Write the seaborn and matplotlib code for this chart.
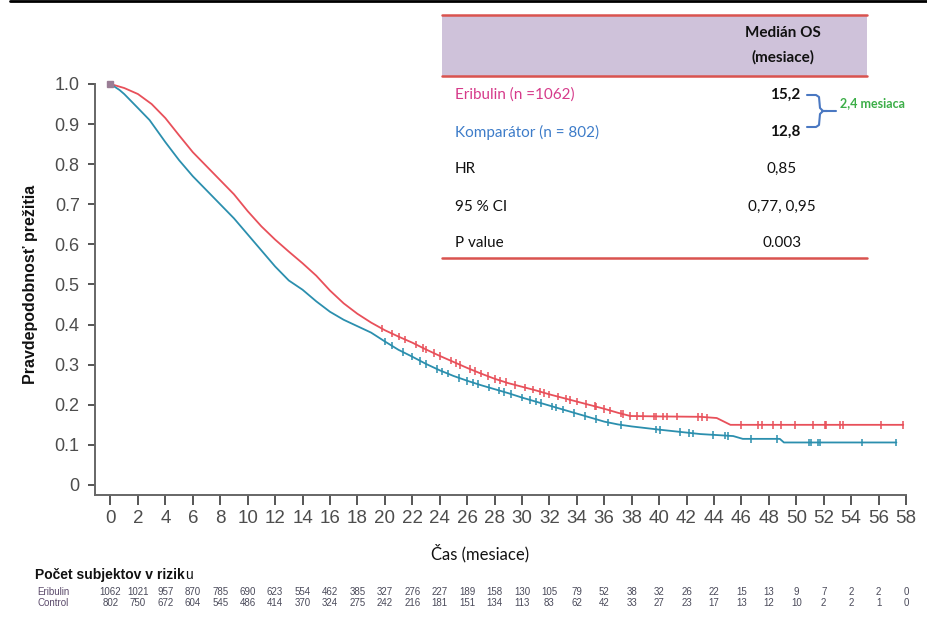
import numpy as np
import pandas as pd
import matplotlib
matplotlib.use("Agg")
import matplotlib.pyplot as plt
import matplotlib.transforms as mtransforms
from matplotlib.lines import Line2D
from matplotlib.patches import Rectangle
import seaborn as sns

# Kaplan-Meier curves (months, survival probability)
eri_t = [0, 1, 2, 3, 4, 5, 6, 7, 8, 9, 10, 11, 12, 13, 14, 15, 16, 17, 18, 19, 20,
         21, 22, 23, 24, 25, 26, 27, 28, 29, 30, 31, 32, 33, 34, 35, 36, 37, 37.9,
         40, 43.0, 44.2, 45.2, 57.8]
eri_s = [1.0, 0.99, 0.975, 0.95, 0.915, 0.872, 0.83, 0.795, 0.76, 0.725, 0.683, 0.645,
         0.612, 0.582, 0.553, 0.522, 0.485, 0.453, 0.427, 0.405, 0.386, 0.37, 0.355,
         0.338, 0.322, 0.307, 0.292, 0.278, 0.265, 0.254, 0.245, 0.236, 0.226, 0.217,
         0.208, 0.199, 0.19, 0.18, 0.172, 0.171, 0.17, 0.167, 0.15, 0.15]
cmp_t = [0, 0.66, 1, 2, 2.85, 4, 5, 6, 7, 8, 9, 10, 11, 12, 13, 14, 15, 16, 17, 18,
         19, 20, 21, 22, 23, 24, 25, 26, 27, 28, 29, 30, 31, 32, 33, 34, 35, 36, 37,
         38, 40, 43.0, 45.4, 46.1, 48.8, 49.1, 57.3]
cmp_s = [1.0, 0.985, 0.975, 0.94, 0.91, 0.855, 0.81, 0.77, 0.735, 0.70, 0.665, 0.625,
         0.585, 0.545, 0.51, 0.487, 0.458, 0.432, 0.412, 0.396, 0.38, 0.358, 0.337,
         0.32, 0.302, 0.286, 0.272, 0.26, 0.249, 0.239, 0.229, 0.218, 0.208, 0.198,
         0.188, 0.178, 0.168, 0.158, 0.151, 0.146, 0.138, 0.127, 0.122, 0.115, 0.115,
         0.106, 0.106]

# censoring marks (months)
eri_cens = [19.8, 20.5, 21.0, 21.5, 22.3, 22.8, 23.0, 23.6, 24.0, 24.8, 25.2, 25.5,
            26.2, 26.6, 27.0, 27.5, 28.0, 28.4, 28.8, 29.5, 30.2, 30.8, 31.3, 31.6,
            32.0, 32.6, 33.2, 33.5, 34.0, 34.7, 35.3, 35.4, 36.0, 36.4, 37.2, 37.4,
            37.9, 38.4, 38.8, 39.6, 39.8, 40.3, 40.6, 41.3, 42.8, 43.1, 43.5, 46.0,
            47.2, 47.5, 48.3, 48.9, 49.9, 51.2, 52.1, 52.2, 53.2, 53.4, 56.2, 57.8]
cmp_cens = [20.0, 20.5, 21.3, 22.0, 22.6, 23.0, 23.8, 24.2, 24.6, 25.4, 26.0, 26.4,
            26.8, 27.6, 28.3, 28.7, 29.2, 30.0, 30.6, 31.0, 31.4, 32.2, 32.5, 33.0,
            33.8, 34.6, 35.4, 36.3, 37.2, 39.8, 40.1, 41.5, 42.2, 42.5, 43.9, 44.8,
            45.0, 46.7, 48.6, 50.9, 51.1, 51.6, 51.7, 54.8, 57.3]

# numbers at risk
risk_months = list(range(0, 59, 2))
risk_eri = [1062, 1021, 957, 870, 785, 690, 623, 554, 462, 385, 327, 276, 227, 189, 158,
            130, 105, 79, 52, 38, 32, 26, 22, 15, 13, 9, 7, 2, 2, 0]
risk_ctl = [802, 750, 672, 604, 545, 486, 414, 370, 324, 275, 242, 216, 181, 151, 134,
            113, 83, 62, 42, 33, 27, 23, 17, 13, 12, 10, 2, 2, 1, 0]

yticks = [0, 0.1, 0.2, 0.3, 0.4, 0.5, 0.6, 0.7, 0.8, 0.9, 1.0]
ytick_labels = ["0", "0.1", "0.2", "0.3", "0.4", "0.5", "0.6", "0.7", "0.8", "0.9", "1.0"]

# summary table
row_labels = ["Eribulin (n =1062)", "Komparátor (n = 802)", "HR", "95 % CI", "P value"]
row_values = ["15,2", "12,8", "0,85", "0,77, 0,95", "0.003"]

RED = "#e8505a"
BLUE = "#2b8fae"

sns.set_style("white")
plt.rcParams["font.family"] = ["Liberation Sans", "DejaVu Sans"]

W, H = 927, 621
fig = plt.figure(figsize=(W / 100, H / 100), dpi=100)


def fx(px):
    return px / W


def fy(py):
    return 1 - py / H


ax = fig.add_axes([fx(95), fy(495), fx(906) - fx(95), fy(84) - fy(495)])

df = pd.concat([
    pd.DataFrame({"t": eri_t, "s": eri_s, "arm": "Eribulin"}),
    pd.DataFrame({"t": cmp_t, "s": cmp_s, "arm": "Komparátor"}),
])
pal = {"Eribulin": RED, "Komparátor": BLUE}
sns.lineplot(data=df, x="t", y="s", hue="arm", palette=pal, estimator=None,
             linewidth=1.3, legend=False, ax=ax, clip_on=False)

cens = pd.concat([
    pd.DataFrame({"t": eri_cens, "s": np.interp(eri_cens, eri_t, eri_s), "arm": "Eribulin"}),
    pd.DataFrame({"t": cmp_cens, "s": np.interp(cmp_cens, cmp_t, cmp_s), "arm": "Komparátor"}),
])
sns.scatterplot(data=cens, x="t", y="s", hue="arm", palette=pal, marker="|", s=30,
                linewidth=1.1, legend=False, ax=ax, clip_on=False)
ax.plot(eri_t[0], eri_s[0], marker="s", ms=4, color="#9a7d95", clip_on=False)

ax.set_xlim(-1.13, 58)
ax.set_ylim(-0.025, 1.0)
ax.set_xticks(risk_months)
ax.set_xticklabels([str(m) for m in risk_months],
                   family=["Liberation Sans Narrow", "Liberation Sans"],
                   fontsize=13.5, color="#4d4d4d")
ax.set_yticks(yticks)
ax.set_yticklabels(ytick_labels, fontsize=13, color="#4d4d4d")
sns.despine(ax=ax)
for sp in ["left", "bottom"]:
    ax.spines[sp].set_color("#666666")
    ax.spines[sp].set_linewidth(1.4)
ax.tick_params(axis="x", direction="out", length=7, width=1.4, color="#555555", pad=4, bottom=True)
ax.tick_params(axis="y", direction="out", length=5, width=1.4, color="#555555", pad=6, left=True)

ax.set_ylabel("Pravdepodobnosť prežitia", fontsize=11.5, fontweight="bold", color="#111111")
ax.yaxis.set_label_coords((38 - 95) / 811, (495 - 284) / 411)
ax.set_xlabel("Čas (mesiace)", family=["Lato", "DejaVu Sans"], fontsize=12, color="#111111")
ax.xaxis.set_label_coords((480 - 95) / 811, (495 - 553) / 411)
ax.xaxis.label.set_va("center")

# top black rule
fig.add_artist(Line2D([fx(10), fx(927)], [fy(1), fy(1)], color="black", lw=2))

# summary table
tab_font = ["Lato", "DejaVu Sans"]
fig.add_artist(Rectangle((fx(442), fy(76)), fx(867) - fx(442), fy(15) - fy(76),
                         facecolor="#cfc2da", edgecolor="none"))
for py in [15, 76, 258]:
    fig.add_artist(Line2D([fx(442), fx(867)], [fy(py), fy(py)], color="#d9534f", lw=1.8))
fig.text(fx(783), fy(33), "Medián OS", ha="center", va="center", family=tab_font,
         fontsize=11, fontweight="bold", color="#111111")
fig.text(fx(783), fy(57), "(mesiace)", ha="center", va="center", family=tab_font,
         fontsize=11, fontweight="bold", color="#111111")
row_y = [95, 132, 169, 207, 243]
row_colors = ["#d63a8a", "#3d7cc9", "#111111", "#111111", "#111111"]
for i, (lab, val) in enumerate(zip(row_labels, row_values)):
    fig.text(fx(455), fy(row_y[i]), lab, ha="left", va="center", family=tab_font,
             fontsize=11, color=row_colors[i])
    if i < 2:
        fig.text(fx(800), fy(row_y[i]), val, ha="right", va="center", family=tab_font,
                 fontsize=11, fontweight="bold", color="#111111")
    else:
        fig.text(fx(782), fy(row_y[i]), val, ha="center", va="center", family=tab_font,
                 fontsize=11, color="#111111")

# brace showing the difference in medians
bx = [807, 816, 819, 820, 823, 827, 823, 820, 819, 816, 807]
by = [95, 95, 97, 108, 111, 111, 111, 114, 125, 127, 127]
fig.add_artist(Line2D([fx(v) for v in bx], [fy(v) for v in by], color="#4a78c2", lw=1.5))
fig.add_artist(Line2D([fx(827), fx(836)], [fy(111), fy(111)], color="#4a78c2", lw=1.5))
fig.text(fx(840), fy(103), "2,4 mesiaca", ha="left", va="center", family=tab_font,
         fontsize=9, fontweight="bold", color="#3cae48")

# number at risk
t1 = fig.text(fx(35), fy(575), "Počet subjektov v rizik", ha="left", va="center",
              fontsize=10, fontweight="bold", color="#111111")
fig.canvas.draw()
bb = t1.get_window_extent()
fig.text(bb.x1 / W, fy(575), "u", ha="left", va="center", fontsize=10, color="#111111")
narrow = ["Liberation Sans Narrow", "Liberation Sans"]
trans = mtransforms.blended_transform_factory(ax.transData, fig.transFigure)
for lab, vals, py in [("Eribulin", risk_eri, 592), ("Control", risk_ctl, 603)]:
    fig.text(fx(37), fy(py), lab, ha="left", va="center", family=narrow, fontsize=7,
             color="#5b4a6b")
    for m, v in zip(risk_months, vals):
        fig.text(m, fy(py), str(v), ha="center", va="center", family=narrow, fontsize=7,
                 color="#4a4a5a", transform=trans)

fig.savefig("out.png", dpi=100)
